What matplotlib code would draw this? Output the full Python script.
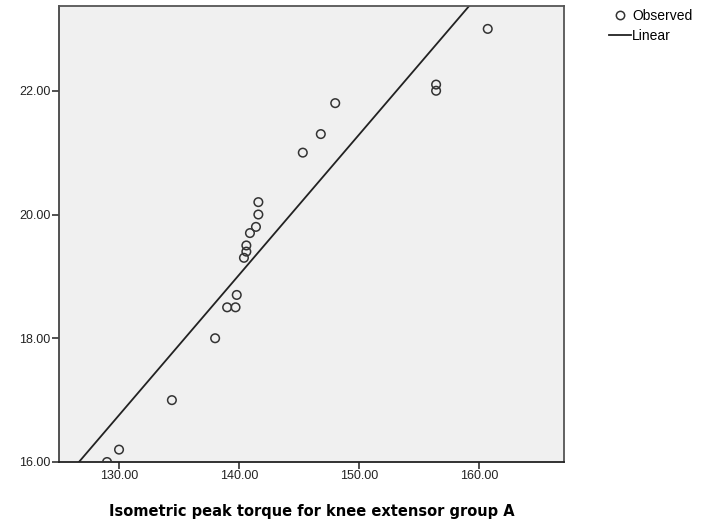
import numpy as np
import matplotlib
matplotlib.use("Agg")
import matplotlib.pyplot as plt
from matplotlib.lines import Line2D

# Observed data
torque = [148.0, 146.8, 145.3, 141.6, 141.6, 141.4, 140.9, 140.6, 140.6, 140.4,
          139.8, 139.0, 139.7, 138.0, 134.4, 130.0, 129.0, 160.7, 156.4, 156.4]
values = [21.8, 21.3, 21.0, 20.2, 20.0, 19.8, 19.7, 19.5, 19.4, 19.3,
          18.7, 18.5, 18.5, 18.0, 17.0, 16.2, 16.0, 23.0, 22.1, 22.0]
xticks = [130, 140, 150, 160]
yticks = [16, 18, 20, 22]
xlabel = "Isometric peak torque for knee extensor group A"

fig = plt.figure(figsize=(7.01, 5.25), dpi=100)
ax = fig.add_axes([59/701, 1-462/525, (564-59)/701, (462-6)/525])
ax.set_facecolor("#f0f0f0")

ax.scatter(torque, values, s=38, facecolors="none", edgecolors="#333333",
           linewidths=1.1, zorder=3)

slope, intercept = np.polyfit(torque, values, 1)
xl = np.array([120, 175])
ax.plot(xl, intercept + slope * xl, color="#222222", lw=1.3, zorder=2)

ax.set_xlim(125.0, 167.05)
ax.set_ylim(16.0, 23.37)
ax.set_xticks(xticks)
ax.set_yticks(yticks)
ax.set_xticklabels([f"{t:.2f}" for t in xticks], family="Liberation Sans", fontsize=9, color="#222222")
ax.set_yticklabels([f"{t:.2f}" for t in yticks], family="Liberation Sans", fontsize=9, color="#222222")
ax.tick_params(direction="out", length=5, width=1.2, color="#333333", pad=1)
for s in ax.spines.values():
    s.set_color("#555555")
    s.set_linewidth(1.3)
ax.spines["bottom"].set_color("#222222")
ax.spines["left"].set_color("#444444")

ax.set_xlabel(xlabel, family="DejaVu Sans", fontweight="bold", fontsize=10.5, labelpad=15.5)

handles = [Line2D([], [], marker="o", linestyle="none", markerfacecolor="none",
                  markeredgecolor="#333333", markersize=6, markeredgewidth=1.1),
           Line2D([], [], color="#222222", lw=1.3)]
leg = fig.legend(handles, ["Observed", "Linear"], loc="upper left",
                 bbox_to_anchor=(609/701, 1-9/525), frameon=False,
                 prop={"family": "Liberation Sans", "size": 10},
                 handlelength=1.6, handletextpad=0.05, labelspacing=0.45,
                 borderaxespad=0, borderpad=0)

fig.savefig("out.png", dpi=100)
